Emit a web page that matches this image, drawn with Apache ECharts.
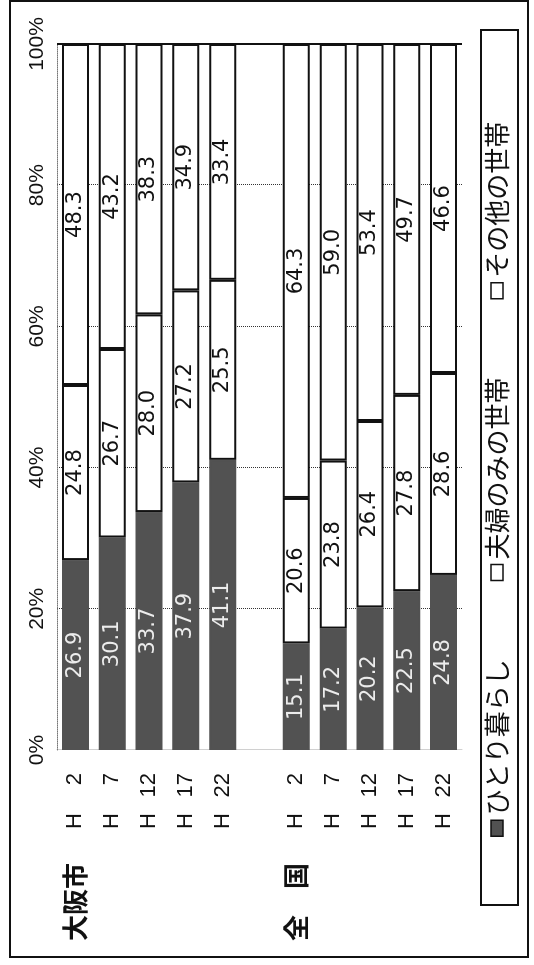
<!DOCTYPE html>
<html>
<head>
<meta charset="utf-8">
<script src="https://cdn.jsdelivr.net/npm/echarts@6/dist/echarts.min.js"></script>
<style>
html, body { margin:0; padding:0; width:534px; height:965px; overflow:hidden; background:#fff; }
/* 元の図は横倒しなので、横棒グラフを描いて左に90度回す */
#main { position:absolute; left:0; top:965px; width:965px; height:534px; transform-origin:0 0; transform:rotate(-90deg); }
</style>
</head>
<body>
<div id="main"></div>
<script>
    var years = ['H 2', 'H 7', 'H12', 'H17', 'H22'];
    var groups = ['大阪市', '全　国'];
    var seriesNames = ['ひとり暮らし', '夫婦のみの世帯', 'その他の世帯'];

    var osakaSingle = [26.9, 30.1, 33.7, 37.9, 41.1];
    var osakaCouple = [24.8, 26.7, 28.0, 27.2, 25.5];
    var osakaOther  = [48.3, 43.2, 38.3, 34.9, 33.4];

    var zenkokuSingle = [15.1, 17.2, 20.2, 22.5, 24.8];
    var zenkokuCouple = [20.6, 23.8, 26.4, 27.8, 28.6];
    var zenkokuOther  = [64.3, 59.0, 53.4, 49.7, 46.6];

    // 大阪市と全国の間に空行をひとつ
    var categories = years.concat(['']).concat(years);
    var groupStart = [0, years.length + 1];
    function join(a, b) { return a.concat(['-']).concat(b); }

    var numFont = 'DejaVu Sans';
    var jpFont = 'Noto Sans CJK JP';

    function barSeries(name, data, fill, textColor, borderColor) {
        return {
            name: name,
            type: 'bar',
            stack: 'total',
            barWidth: 27,
            data: data,
            itemStyle: { color: fill, borderColor: borderColor, borderWidth: 2 },
            label: {
                show: true,
                position: 'inside',
                color: textColor,
                fontFamily: numFont,
                fontSize: 21,
                formatter: function (p) { return p.value.toFixed(1); }
            }
        };
    }

    var chart = echarts.init(document.getElementById('main'));

    var series = [
        barSeries(seriesNames[0], join(osakaSingle, zenkokuSingle), '#525252', '#ececec', '#525252'),
        barSeries(seriesNames[1], join(osakaCouple, zenkokuCouple), '#ffffff', '#111', '#111'),
        barSeries(seriesNames[2], join(osakaOther, zenkokuOther), '#ffffff', '#111', '#111')
    ];
    // 100%の線
    series[2].markLine = {
        silent: true,
        symbol: 'none',
        label: { show: false },
        lineStyle: { color: '#111', type: 'solid', width: 2 },
        data: [{ xAxis: 100 }]
    };

    option = {
        animation: false,
        backgroundColor: '#fff',
        grid: { left: 215, right: 44, top: 57, bottom: 72 },
        legend: {
            data: seriesNames,
            left: 128,
            top: 484,
            padding: 0,
            itemGap: 78,
            itemWidth: 16,
            itemHeight: 12,
            icon: 'rect',
            itemStyle: { borderColor: '#111', borderWidth: 1.5 },
            textStyle: { fontFamily: jpFont, fontSize: 26, color: '#111' }
        },
        xAxis: {
            type: 'value',
            position: 'top',
            min: 0,
            max: 100,
            interval: 20,
            axisLine: { show: true, lineStyle: { color: '#777', type: 'dotted', width: 1 } },
            axisTick: { show: false },
            axisLabel: {
                formatter: '{value}%',
                margin: 9,
                color: '#111',
                fontFamily: 'Liberation Sans',
                fontSize: 21
            },
            splitLine: { show: true, lineStyle: { color: '#333', type: 'dotted', width: 1 } }
        },
        yAxis: [{
            type: 'category',
            inverse: true,
            data: categories,
            axisLine: { show: true, lineStyle: { color: '#d0d0d0', width: 1 } },
            axisTick: { show: false },
            axisLabel: {
                margin: 79,
                align: 'left',
                color: '#111',
                formatter: function (value) {
                    if (!value) return '';
                    return '{h|H}{n|' + value.slice(1).trim() + '}';
                },
                rich: {
                    h: { width: 29, align: 'left', fontFamily: 'Liberation Sans', fontSize: 22, color: '#111' },
                    n: { width: 27, align: 'right', fontFamily: 'Liberation Sans', fontSize: 22, color: '#111' }
                }
            }
        }, {
            type: 'category',
            inverse: true,
            position: 'left',
            data: categories,
            axisLine: { show: false },
            axisTick: { show: false },
            axisLabel: {
                margin: 191,
                align: 'left',
                color: '#111',
                fontFamily: jpFont,
                fontWeight: 'bold',
                fontSize: 26,
                formatter: function (value, index) {
                    var g = groupStart.indexOf(index);
                    return g >= 0 ? groups[g] : '';
                }
            }
        }],
        graphic: [{
            type: 'rect',
            silent: true,
            shape: { x: 60, y: 481, width: 875, height: 37 },
            style: { fill: 'none', stroke: '#111', lineWidth: 2 }
        }, {
            type: 'rect',
            silent: true,
            shape: { x: 8, y: 10, width: 956, height: 518 },
            style: { fill: 'none', stroke: '#111', lineWidth: 2 }
        }],
        series: series
    };

    chart.setOption(option);
</script>
</body>
</html>
